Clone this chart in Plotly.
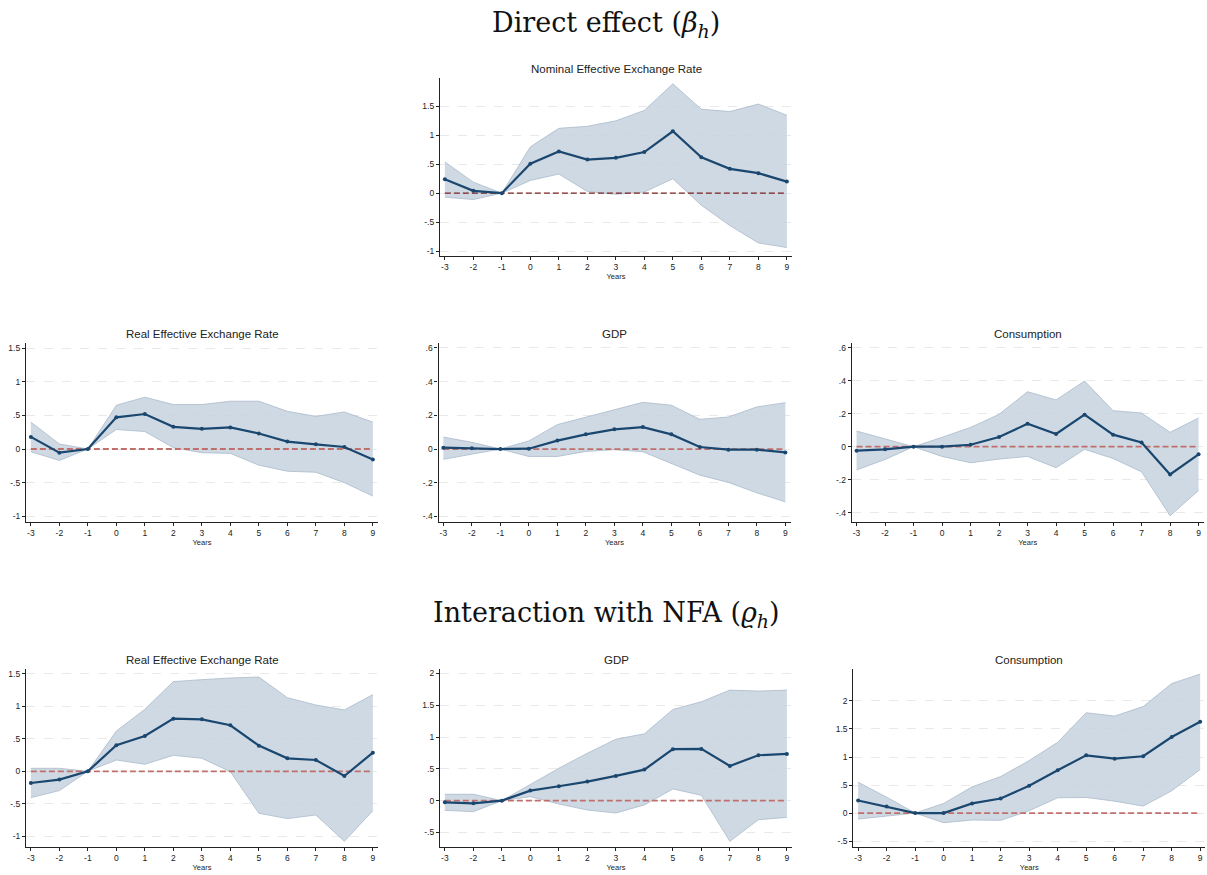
import plotly.graph_objects as go

W, H = 1207, 875

horizons = [-3, -2, -1, 0, 1, 2, 3, 4, 5, 6, 7, 8, 9]

# ---- Direct effect ----
neer_est = [0.24, 0.04, 0.0, 0.51, 0.72, 0.58, 0.61, 0.71, 1.07, 0.62, 0.42, 0.345, 0.20]
neer_hi = [0.54, 0.19, 0.0, 0.80, 1.12, 1.155, 1.25, 1.43, 1.89, 1.45, 1.41, 1.54, 1.345]
neer_lo = [-0.07, -0.11, 0.0, 0.22, 0.33, 0.03, -0.02, 0.02, 0.25, -0.21, -0.56, -0.86, -0.94]

reer_est = [0.18, -0.055, 0.0, 0.47, 0.52, 0.33, 0.30, 0.32, 0.23, 0.11, 0.07, 0.03, -0.155]
reer_hi = [0.40, 0.075, 0.0, 0.65, 0.77, 0.66, 0.66, 0.71, 0.71, 0.56, 0.485, 0.55, 0.40]
reer_lo = [-0.04, -0.17, 0.0, 0.29, 0.26, 0.02, -0.055, -0.065, -0.24, -0.33, -0.345, -0.50, -0.70]

gdp_est = [0.008, 0.004, 0.0, 0.002, 0.05, 0.087, 0.117, 0.13, 0.087, 0.012, -0.004, -0.004, -0.02]
gdp_hi = [0.071, 0.04, 0.0, 0.048, 0.145, 0.19, 0.235, 0.277, 0.26, 0.176, 0.19, 0.25, 0.275]
gdp_lo = [-0.061, -0.032, 0.0, -0.044, -0.044, -0.014, -0.004, -0.016, -0.085, -0.155, -0.198, -0.26, -0.313]

cons_est = [-0.024, -0.016, 0.0, 0.0, 0.012, 0.059, 0.139, 0.077, 0.194, 0.073, 0.026, -0.168, -0.046]
cons_hi = [0.095, 0.048, 0.0, 0.057, 0.117, 0.196, 0.333, 0.283, 0.398, 0.218, 0.204, 0.087, 0.174]
cons_lo = [-0.141, -0.077, 0.0, -0.059, -0.097, -0.075, -0.059, -0.127, -0.016, -0.071, -0.152, -0.418, -0.265]

# ---- Interaction with NFA ----
reer_nfa_est = [-0.18, -0.128, 0.0, 0.40, 0.544, 0.81, 0.80, 0.708, 0.395, 0.20, 0.174, -0.072, 0.287]
reer_nfa_hi = [0.046, 0.046, 0.0, 0.62, 0.954, 1.38, 1.41, 1.436, 1.45, 1.133, 1.02, 0.944, 1.18]
reer_nfa_lo = [-0.405, -0.297, 0.0, 0.174, 0.108, 0.246, 0.20, -0.005, -0.646, -0.728, -0.672, -1.077, -0.605]

gdp_nfa_est = [-0.026, -0.042, 0.0, 0.158, 0.226, 0.30, 0.389, 0.488, 0.809, 0.814, 0.546, 0.714, 0.735]
gdp_nfa_hi = [0.10, 0.10, 0.0, 0.257, 0.51, 0.746, 0.966, 1.05, 1.434, 1.555, 1.738, 1.723, 1.738]
gdp_nfa_lo = [-0.152, -0.173, 0.0, 0.063, -0.053, -0.147, -0.194, -0.068, 0.184, 0.084, -0.64, -0.30, -0.263]

cons_nfa_est = [0.225, 0.118, 0.0, 0.0, 0.172, 0.26, 0.486, 0.764, 1.03, 0.97, 1.013, 1.357, 1.63]
cons_nfa_hi = [0.55, 0.284, 0.0, 0.172, 0.468, 0.652, 0.936, 1.262, 1.79, 1.73, 1.90, 2.31, 2.48]
cons_nfa_lo = [-0.107, -0.053, 0.0, -0.172, -0.124, -0.13, 0.041, 0.273, 0.278, 0.213, 0.124, 0.397, 0.776]

ticks_a = [-1, -0.5, 0, 0.5, 1, 1.5]
ticks_b = [-0.4, -0.2, 0, 0.2, 0.4, 0.6]
ticks_c = [-0.5, 0, 0.5, 1, 1.5, 2]

titles = ["Nominal Effective Exchange Rate", "Real Effective Exchange Rate", "GDP", "Consumption",
          "Real Effective Exchange Rate", "GDP", "Consumption"]
section_titles = ["Direct effect (<i>β</i><sub><i>h</i></sub>)",
                  "Interaction with NFA (<i>ϱ</i><sub><i>h</i></sub>)"]


def stata_label(v):
    if v == 0:
        return "0"
    s = ("%g" % v)
    s = s.replace("0.", ".")
    return s


panels = [
    # data, ticks, pixel box (x0, x1, ytop, ybottom), y range, zero-line style
    (neer_est, neer_hi, neer_lo, ticks_a, (440, 792, 78, 256), (-1.086, 1.99), "top"),
    (reer_est, reer_hi, reer_lo, ticks_a, (26, 378, 343, 521.7), (-1.08, 1.575), "low"),
    (gdp_est, gdp_hi, gdp_lo, ticks_b, (438.5, 790.5, 343, 521.7), (-0.431, 0.629), "low"),
    (cons_est, cons_hi, cons_lo, ticks_b, (851.7, 1203.7, 343, 521.7), (-0.454, 0.628), "low"),
    (reer_nfa_est, reer_nfa_hi, reer_nfa_lo, ticks_a, (26, 378, 669, 846.7), (-1.16, 1.574), "low"),
    (gdp_nfa_est, gdp_nfa_hi, gdp_nfa_lo, ticks_c, (440, 792, 669, 846.7), (-0.724, 2.07), "low"),
    (cons_nfa_est, cons_nfa_hi, cons_nfa_lo, ticks_c, (853.3, 1205.3, 669, 846.7), (-0.60, 2.57), "low"),
]

LINE = "#1a476f"
FILL = "rgba(199,210,222,0.85)"
EDGE = "#a9bacb"
AXC = "#222222"
FONT = "Liberation Sans, Arial, sans-serif"
SERIF = "DejaVu Serif, Liberation Serif, serif"

fig = go.Figure()
layout = dict(
    width=W, height=H, margin=dict(l=0, r=0, t=0, b=0),
    paper_bgcolor="white", plot_bgcolor="white", showlegend=False,
)
annotations = []

for i, (est, hi, lo, yt, box, yr, zstyle) in enumerate(panels):
    n = i + 1
    xa = "x" if n == 1 else f"x{n}"
    ya = "y" if n == 1 else f"y{n}"
    x0, x1, yt_px, yb_px = box
    layout[f"xaxis{'' if n == 1 else n}"] = dict(
        domain=[x0 / W, x1 / W], range=[-3.17, 9.18], anchor=ya,
        tickvals=horizons, ticktext=[str(h) for h in horizons],
        showgrid=False, zeroline=False, showline=True, linecolor=AXC, linewidth=1.2,
        ticks="outside", ticklen=3, tickcolor=AXC, tickwidth=1,
        tickfont=dict(family=FONT, size=8.5, color="#222"),
        title=dict(text="Years", font=dict(family=FONT, size=7.5, color="#222"), standoff=2),
        fixedrange=True,
    )
    layout[f"yaxis{'' if n == 1 else n}"] = dict(
        domain=[1 - yb_px / H, 1 - yt_px / H], range=list(yr), anchor=xa,
        tickvals=yt, ticktext=[stata_label(v) for v in yt],
        showgrid=True, gridcolor="#e9e9e9", griddash="dash", gridwidth=1,
        zeroline=False, showline=True, linecolor=AXC, linewidth=1.2,
        ticks="outside", ticklen=3, tickcolor=AXC, tickwidth=1,
        tickfont=dict(family=FONT, size=8.5, color="#222"),
        fixedrange=True,
    )
    # confidence band
    fig.add_trace(go.Scatter(x=horizons, y=hi, mode="lines", line=dict(color=EDGE, width=0.8),
                             xaxis=xa, yaxis=ya, hoverinfo="skip"))
    fig.add_trace(go.Scatter(x=horizons, y=lo, mode="lines", line=dict(color=EDGE, width=0.8),
                             fill="tonexty", fillcolor=FILL, xaxis=xa, yaxis=ya, hoverinfo="skip"))
    # zero line
    if zstyle == "top":
        zl = dict(color="#7a2020", width=1.1, dash="6px,3px")
    else:
        zl = dict(color="#c0706c", width=1.8, dash="6px,3px")
    fig.add_trace(go.Scatter(x=[horizons[0], horizons[-1]], y=[0, 0], mode="lines", line=zl,
                             xaxis=xa, yaxis=ya, hoverinfo="skip"))
    # point estimates
    fig.add_trace(go.Scatter(x=horizons, y=est, mode="lines+markers",
                             line=dict(color=LINE, width=2.2), marker=dict(color=LINE, size=4),
                             xaxis=xa, yaxis=ya))
    # panel title
    annotations.append(dict(
        text=titles[i], x=(x0 + x1) / 2 / W, y=1 - (yt_px - 1) / H, xref="paper", yref="paper",
        xanchor="center", yanchor="bottom", showarrow=False,
        font=dict(family=FONT, size=11.5, color="#222"),
    ))

annotations.append(dict(text=section_titles[0], x=606 / W, y=1 - 24 / H, xref="paper", yref="paper",
                        xanchor="center", yanchor="middle", showarrow=False,
                        font=dict(family=SERIF, size=27, color="#111")))
annotations.append(dict(text=section_titles[1], x=606 / W, y=1 - 614 / H, xref="paper", yref="paper",
                        xanchor="center", yanchor="middle", showarrow=False,
                        font=dict(family=SERIF, size=27, color="#111")))

layout["annotations"] = annotations
fig.update_layout(**layout)
fig.write_html("out.html")
